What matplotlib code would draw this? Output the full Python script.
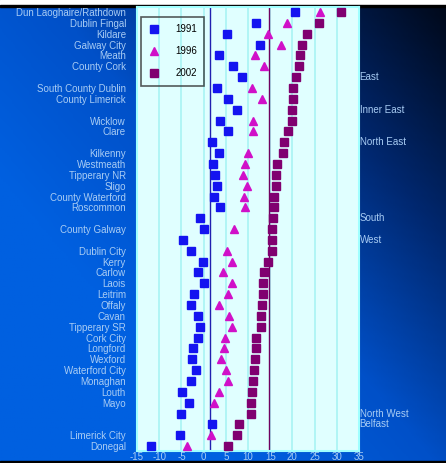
import numpy as np
import matplotlib
matplotlib.use("Agg")
import matplotlib.pyplot as plt
from matplotlib.colors import LinearSegmentedColormap

plt.rcParams['font.family'] = ['Liberation Sans', 'DejaVu Sans']
plt.rcParams['axes.unicode_minus'] = False

# county labels (left) and region labels (right), one per row
left_labels = ["Dun Laoghaire/Rathdown", "Dublin Fingal", "Kildare", "Galway City", "Meath",
               "County Cork", "", "South County Dublin", "County Limerick", "", "Wicklow",
               "Clare", "", "Kilkenny", "Westmeath", "Tipperary NR", "Sligo", "County Waterford",
               "Roscommon", "", "County Galway", "", "Dublin City", "Kerry", "Carlow", "Laois",
               "Leitrim", "Offaly", "Cavan", "Tipperary SR", "Cork City", "Longford", "Wexford",
               "Waterford City", "Monaghan", "Louth", "Mayo", "", "", "Limerick City", "Donegal"]
right_labels = {6: "East", 9: "Inner East", 12: "North East", 19: "South", 21: "West",
                37: "North West", 38: "Belfast"}

v1991 = [20.5, 11.8, 5.2, 12.6, 3.5, 6.6, 8.7, 3.1, 5.5, 7.5, 3.7, 5.4, 2.0, 3.5, 2.1,
         2.5, 3.1, 2.4, 3.6, -0.7, 0.2, -4.6, -2.9, -0.2, -1.3, 0.0, -2.1, -2.9, -1.3,
         -0.7, -1.2, -2.5, -2.7, -1.6, -2.9, -4.9, -3.4, -5.0, 2.0, -5.4, -11.9]
v1996 = [26.3, 18.7, 14.6, 17.5, 11.5, 13.6, None, 10.9, 13.1, None, 11.2, 11.2, None,
         10.1, 9.3, 8.9, 9.7, 9.1, 9.4, None, 6.9, None, 5.2, 6.3, 4.3, 6.5, 5.4, 3.5,
         5.7, 6.3, 4.9, 4.5, 3.9, 5.1, 5.6, 3.4, 2.4, None, None, 1.6, -3.7]
v2002 = [31.0, 25.9, 23.2, 22.1, 21.6, 21.4, 20.8, 20.2, 20.2, 20.0, 19.8, 18.9, 18.0,
         17.8, 16.6, 16.4, 16.2, 15.9, 15.8, 15.6, 15.5, 15.4, 15.3, 14.6, 13.6, 13.4,
         13.3, 13.2, 13.0, 13.0, 11.7, 11.7, 11.6, 11.4, 11.2, 11.0, 10.7, 10.7, 7.9,
         7.6, 5.6]
ref_1991 = 1.35
ref_2002 = 14.8

rows = np.arange(len(left_labels))
y96 = [r for r, v in zip(rows, v1996) if v is not None]
x96 = [v for v in v1996 if v is not None]

fig = plt.figure(figsize=(4.46, 4.63), dpi=100)

# gradient backdrop
bg = fig.add_axes([0, 0, 1, 1], zorder=-10)
xx, yy = np.meshgrid(np.linspace(0, 1, 200), np.linspace(0, 1, 200))
t = np.clip((1 - xx) * 0.75 + yy * 0.65, 0, 1)
cmap = LinearSegmentedColormap.from_list("bg", ["#000818", "#00276e", "#0050c8", "#0060e0"])
bg.imshow(t, cmap=cmap, aspect='auto', extent=[0, 1, 0, 1], origin='upper')
bg.axis('off')
fig.patches.append(plt.Rectangle((0, 1 - 5 / 463), 1, 5 / 463, transform=fig.transFigure,
                                 color='white', zorder=-5))
fig.patches.append(plt.Rectangle((0, 1 - 7 / 463), 1, 2 / 463, transform=fig.transFigure,
                                 color='black', zorder=-5))
fig.patches.append(plt.Rectangle((0, 0), 1, 2 / 463, transform=fig.transFigure,
                                 color='black', zorder=-5))

ax = fig.add_axes([137 / 446, 1 - 451 / 463, 222 / 446, 443.5 / 463])
ax.set_facecolor('#e0ffff')
for s in ax.spines.values():
    s.set_color('#a0ffff')
    s.set_linewidth(1.5)

ax.plot(v1991, rows, 's', color='#1414f0', markersize=5.3, label='1991', zorder=3)
ax.plot(x96, y96, '^', color='#d010c8', markersize=5.3, label='1996', zorder=3)
ax.plot(v2002, rows, 's', color='#800070', markersize=5.3, label='2002', zorder=3)

ax.axvline(ref_1991, color='#2020b0', lw=1, zorder=2)
ax.axvline(ref_2002, color='#700060', lw=1, zorder=2)

ax.set_xlim(-15, 35)
ax.set_ylim(40.45, -0.42)
ax.set_xticks(np.arange(-15, 36, 5))
ax.grid(axis='x', color='#a8f4f4', lw=1.2)
ax.set_axisbelow(True)
ax.set_yticks(rows)
ax.set_yticklabels(left_labels)
ax.tick_params(length=0, labelsize=7.0, colors='#a8ccf4', pad=8)
ax.tick_params(axis='x', pad=1)

for r, name in right_labels.items():
    ax.text(1.003, r, name, transform=ax.get_yaxis_transform(), fontsize=7.0,
            color='#a8ccf4', va='center', ha='left')

leg = ax.legend(loc='upper left', bbox_to_anchor=(0.017, 0.979), fontsize=7.0,
                frameon=True, fancybox=False, labelspacing=1.25, borderpad=0.75,
                handletextpad=1.6, handlelength=1.2, borderaxespad=0)
leg.get_frame().set_facecolor('none')
leg.get_frame().set_edgecolor('#303030')
leg.get_frame().set_linewidth(1.2)

fig.savefig("out.png", dpi=100)
